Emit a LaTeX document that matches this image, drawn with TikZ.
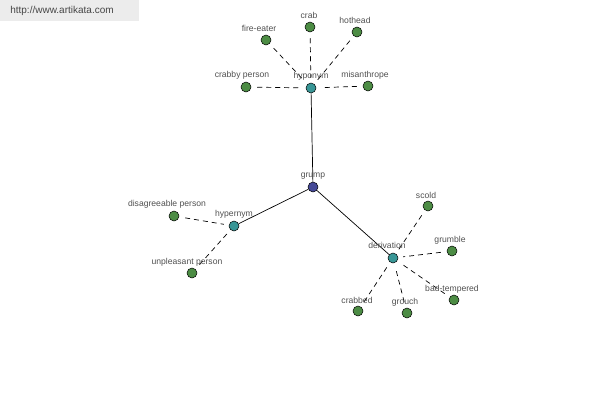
\documentclass[tikz,border=0pt]{standalone}
\usepackage{fontspec}
\setmainfont{Liberation Sans}
\begin{document}
\begin{tikzpicture}[x=1pt,y=-1pt,
  leaf/.style={circle,draw=black,line width=0.5pt,fill=leafgreen,minimum size=10pt,inner sep=0pt},
  hub/.style={circle,draw=black,line width=0.5pt,fill=hubteal,minimum size=10pt,inner sep=0pt},
  root/.style={circle,draw=black,line width=0.5pt,fill=rootblue,minimum size=10pt,inner sep=0pt},
  lbl/.style={text=labelgrey,font=\fontsize{8.6}{9}\selectfont,inner sep=0pt},
  dashlink/.style={dashed,dash pattern=on 5pt off 4pt,line width=0.7pt,shorten <=6pt,shorten >=5pt},
  solidlink/.style={line width=0.7pt}]
\definecolor{leafgreen}{RGB}{76,140,68}
\definecolor{hubteal}{RGB}{56,150,150}
\definecolor{rootblue}{RGB}{68,72,150}
\definecolor{labelgrey}{RGB}{80,80,80}
\definecolor{headergrey}{RGB}{236,236,236}
\useasboundingbox (0,0) rectangle (600,400);
\fill[headergrey] (0,0) rectangle (139,21);
\node[lbl,font=\fontsize{10}{11}\selectfont,text={rgb,255:red,70;green,70;blue,70}] (url) at (62,11) {http://www.artikata.com};
% nodes
\node[root] (grump) at (313,187) {};
\node[hub] (hyponym) at (311,88) {};
\node[hub] (hypernym) at (234,226) {};
\node[hub] (derivation) at (393,258) {};
\node[leaf] (fireeater) at (266,40) {};
\node[leaf] (crab) at (310,27) {};
\node[leaf] (hothead) at (357,32) {};
\node[leaf] (crabby) at (246,87) {};
\node[leaf] (misan) at (368,86) {};
\node[leaf] (disag) at (174,216) {};
\node[leaf] (unpl) at (192,273) {};
\node[leaf] (scold) at (428,206) {};
\node[leaf] (grumble) at (452,251) {};
\node[leaf] (badt) at (454,300) {};
\node[leaf] (crabbed) at (358,311) {};
\node[leaf] (grouch) at (407,313) {};
% edges
\draw[solidlink] (grump) -- (hyponym);
\draw[solidlink] (grump) -- (hypernym);
\draw[solidlink] (grump) -- (derivation);
\foreach \a in {fireeater,crab,hothead,crabby,misan}
  \draw[dashlink] (\a) -- (hyponym);
\foreach \a in {disag,unpl}
  \draw[dashlink] (\a) -- (hypernym);
\foreach \a in {scold,grumble,badt,crabbed,grouch}
  \draw[dashlink] (\a) -- (derivation);
% labels
\node[lbl] (lgrump) at (313,176) {grump};
\node[lbl] (lhyponym) at (311,76) {hyponym};
\node[lbl] (lhypernym) at (234,214) {hypernym};
\node[lbl] (lderiv) at (387,245) {derivation};
\node[lbl] (lfire) at (259,28) {fire-eater};
\node[lbl] (lcrab) at (309,15) {crab};
\node[lbl] (lhot) at (355,20) {hothead};
\node[lbl] (lcrabby) at (242,75) {crabby person};
\node[lbl] (lmisan) at (365,75) {misanthrope};
\node[lbl] (ldisag) at (167,204) {disagreeable person};
\node[lbl] (lunpl) at (187,262) {unpleasant person};
\node[lbl] (lscold) at (426,195) {scold};
\node[lbl] (lgrumble) at (450,240) {grumble};
\node[lbl] (lbadt) at (452,289) {bad-tempered};
\node[lbl] (lcrabbed) at (357,300) {crabbed};
\node[lbl] (lgrouch) at (405,302) {grouch};
\end{tikzpicture}
\end{document}
